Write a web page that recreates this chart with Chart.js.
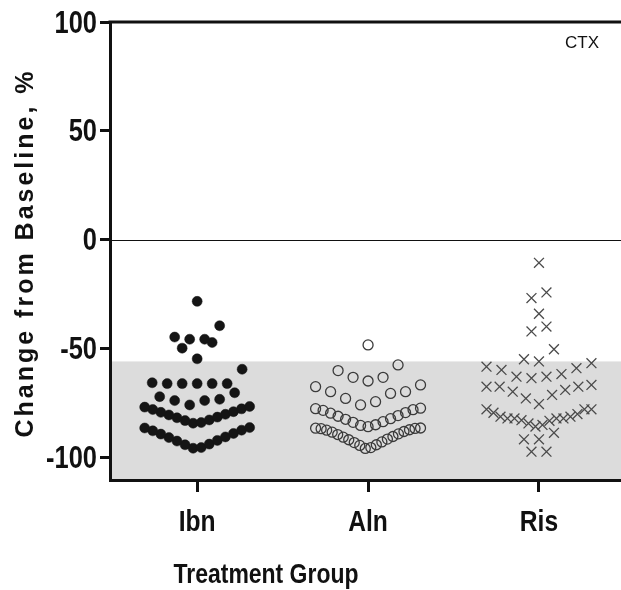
<!DOCTYPE html>
<html>
<head>
<meta charset="utf-8">
<script src="https://cdn.jsdelivr.net/npm/chart.js@4.4.1/dist/chart.umd.min.js"></script>
<style>
    html, body { margin: 0; padding: 0; background: #fff; overflow: hidden; }
</style>
</head>
<body>
<canvas id="dotChart" width="621" height="590"></canvas>
<script>
// groups and tick values
const groups = ['Ibn', 'Aln', 'Ris'];
const yTicks = [-100, -50, 0, 50, 100];
const bandTop = -56;   // upper limit of the grey band

// change from baseline, % (one value per patient)
const ibnValues = [
    -28.4, -39.6, -44.8, -45.8, -45.8, -47.3, -49.9, -54.8, -59.6,
    -65.8, -66.2, -66.2, -66.2, -66.2, -66.2,
    -70.4, -72.2, -73.4, -74.0, -74.0, -76.0,
    -76.7, -77.0, -77.8, -78.1, -79.1, -79.4, -80.3, -80.6, -81.6, -81.9, -82.9, -83.2, -84.1, -84.4,
    -86.4, -86.6, -87.6, -87.9, -89.1, -89.4, -90.7, -91.0, -92.3, -92.6, -94.0, -94.3, -95.6, -95.9
];
const alnValues = [
    -48.4,
    -57.6, -60.2, -63.3, -63.3, -65.0,
    -66.8, -67.6, -69.9, -69.9, -70.7, -73.0, -74.5, -76.0,
    -77.5, -77.7, -78.2, -78.5, -79.5, -79.8, -80.9, -81.2, -82.3, -82.6, -83.7, -84.0, -85.1, -85.4, -86.0,
    -86.6, -86.7, -86.8, -86.9, -87.4, -87.6, -88.2, -88.5, -89.3, -89.6, -90.5, -90.8, -91.7, -92.0,
    -93.0, -93.3, -94.3, -94.6, -95.6, -96.0
];
const risValues = [
    -10.7, -24.3, -26.9, -34.1, -40.0, -42.2, -50.4, -55.0, -56.0, -56.8,
    -58.4, -59.1, -59.9, -61.8, -63.0, -63.0, -63.7,
    -66.8, -67.6, -67.6, -67.6, -69.1, -69.9, -71.4, -73.0, -75.6,
    -78.0, -78.0, -78.0, -79.6, -80.2, -81.4, -81.4, -82.2, -82.2, -82.2, -82.2, -83.0, -83.3, -84.5, -85.2, -85.9,
    -88.8, -91.8, -91.8, -97.5, -97.5
];

// dot-plot layout: bin by value, spread each bin sideways, lowest in the middle
const BIN_START = -86.2, BIN_SIZE = 9.85;
const PX_PER_GROUP = 171, ROW_WIDTH = 105, MAX_STEP = 15;

function swarm(values, center) {
    const bins = {};
    values.forEach(v => {
        const k = Math.floor((v - BIN_START) / BIN_SIZE);
        (bins[k] = bins[k] || []).push(v);
    });
    const pts = [];
    Object.values(bins).forEach(row => {
        row.sort((a, b) => a - b);
        const n = row.length;
        const step = n > 1 ? Math.min(MAX_STEP, ROW_WIDTH / (n - 1)) : 0;
        const slots = [];
        for (let i = 0; i < n; i++) slots.push(i - (n - 1) / 2);
        slots.sort((a, b) => Math.abs(a) - Math.abs(b) || a - b);
        row.forEach((v, i) => pts.push({ x: center + slots[i] * step / PX_PER_GROUP, y: v }));
    });
    return pts;
}

const sans = "'Liberation Sans', Arial, sans-serif";
const ink = '#111';
const NARROW = 0.82;   // no condensed font installed, squeeze the bold face instead

function narrowText(ctx, text, x, y, size, align, baseline) {
    ctx.save();
    ctx.translate(x, y);
    ctx.scale(NARROW, 1);
    ctx.font = 'bold ' + size + 'px ' + sans;
    ctx.textAlign = align;
    ctx.textBaseline = baseline;
    ctx.fillText(text, 0, 0);
    ctx.restore();
}

const framePlugin = {
    id: 'frame',
    beforeDraw(chart) {
        const { ctx, chartArea: a, scales: { y } } = chart;
        ctx.save();
        // grey band
        const yb = y.getPixelForValue(bandTop);
        ctx.fillStyle = '#dcdcdc';
        ctx.fillRect(a.left, yb, a.right - a.left, a.bottom - yb);
        // zero line
        const y0 = Math.round(y.getPixelForValue(0)) + 0.5;
        ctx.strokeStyle = ink;
        ctx.lineWidth = 1;
        ctx.beginPath();
        ctx.moveTo(a.left, y0);
        ctx.lineTo(a.right, y0);
        ctx.stroke();
        // top border
        ctx.lineWidth = 3;
        ctx.beginPath();
        ctx.moveTo(a.left - 1.5, a.top);
        ctx.lineTo(a.right, a.top);
        ctx.stroke();
        ctx.restore();
    },
    afterDraw(chart) {
        const { ctx, chartArea: a, scales: { x, y } } = chart;
        ctx.save();
        ctx.fillStyle = ink;

        // tick labels
        yTicks.forEach(v => narrowText(ctx, String(v), 97, y.getPixelForValue(v) + 2, 31, 'right', 'middle'));
        groups.forEach((g, i) => narrowText(ctx, g, x.getPixelForValue(i + 1), 531, 30, 'center', 'alphabetic'));

        // x axis title
        narrowText(ctx, 'Treatment Group', 266, 583, 28, 'center', 'alphabetic');

        // y axis title (letter spaced)
        ctx.save();
        ctx.translate(33, (a.top + a.bottom) / 2 + 2);
        ctx.rotate(-Math.PI / 2);
        ctx.font = 'bold 25px ' + sans;
        ctx.letterSpacing = '3px';
        ctx.textAlign = 'center';
        ctx.textBaseline = 'alphabetic';
        ctx.fillText('Change from Baseline, %', 0, 0);
        ctx.restore();

        // panel label
        ctx.font = '17px ' + sans;
        ctx.textAlign = 'left';
        ctx.textBaseline = 'alphabetic';
        ctx.fillText('CTX', 565, 48);
        ctx.restore();
    }
};

new Chart(document.getElementById('dotChart').getContext('2d'), {
    type: 'scatter',
    data: {
        datasets: [
            {
                label: 'Ibn',
                data: swarm(ibnValues, 1),
                pointStyle: 'circle',
                pointRadius: 5,
                backgroundColor: '#151515',
                borderColor: '#151515',
                borderWidth: 0.5
            },
            {
                label: 'Aln',
                data: swarm(alnValues, 2),
                pointStyle: 'circle',
                pointRadius: 5,
                backgroundColor: 'rgba(0,0,0,0)',
                borderColor: '#3a3a3a',
                borderWidth: 1.3
            },
            {
                label: 'Ris',
                data: swarm(risValues, 3),
                pointStyle: 'crossRot',
                pointRadius: 7,
                borderColor: '#4a4a4a',
                borderWidth: 1.3
            }
        ]
    },
    options: {
        responsive: false,
        animation: false,
        devicePixelRatio: 1,
        layout: {
            autoPadding: false,
            padding: { top: 22, right: 0, bottom: 0, left: 0 }
        },
        plugins: {
            legend: { display: false },
            tooltip: { enabled: false }
        },
        scales: {
            x: {
                type: 'linear',
                min: 0.49,
                max: 3.48,
                afterBuildTicks: s => { s.ticks = groups.map((g, i) => ({ value: i + 1 })); },
                afterFit: s => {
                    s.height = 110;
                    s.paddingLeft = 0;
                    s.paddingRight = 0;
                },
                border: { display: true, color: ink, width: 3 },
                grid: { drawOnChartArea: false, drawTicks: true, tickLength: 12, lineWidth: 3, color: ink },
                ticks: {
                    callback: v => groups[Math.round(v) - 1],
                    color: 'rgba(0,0,0,0)',
                    font: { family: sans, size: 30, weight: 'bold' },
                    maxRotation: 0,
                    autoSkip: false
                }
            },
            y: {
                min: -110.5,
                max: 100,
                afterBuildTicks: s => { s.ticks = yTicks.map(v => ({ value: v })); },
                afterFit: s => {
                    s.width = 110;
                    s.paddingTop = 0;
                    s.paddingBottom = 0;
                },
                border: { display: true, color: ink, width: 3 },
                grid: { drawOnChartArea: false, drawTicks: true, tickLength: 10, lineWidth: 3, color: ink },
                ticks: {
                    color: 'rgba(0,0,0,0)',
                    font: { family: sans, size: 30, weight: 'bold' }
                }
            }
        }
    },
    plugins: [framePlugin]
});
</script>
</body>
</html>
